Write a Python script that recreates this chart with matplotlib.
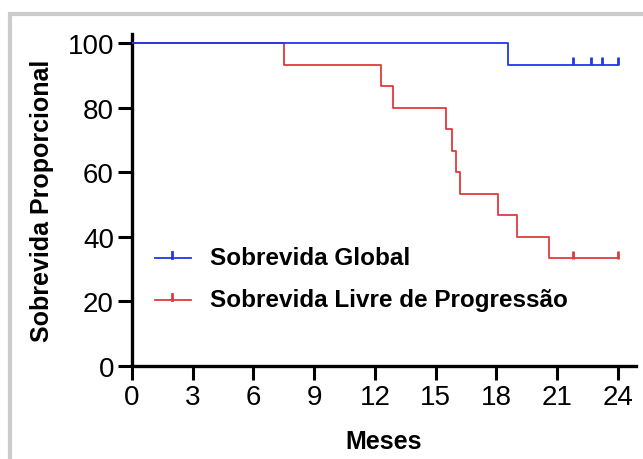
import matplotlib.pyplot as plt
from matplotlib.patches import Rectangle

plt.rcParams['font.family'] = ['Liberation Sans', 'DejaVu Sans']

# Sobrevida Global: event times (months) and survival (%)
os_times = [0, 18.6, 24.0]
os_surv = [100, 93.3, 93.3]
os_censor_t = [21.8, 22.7, 23.2, 24.0]

# Sobrevida Livre de Progressao
pfs_times = [0, 7.5, 12.3, 12.9, 15.5, 15.8, 16.0, 16.2, 18.1, 19.0, 20.6, 24.0]
pfs_surv = [100, 93.3, 86.7, 80.0, 73.3, 66.7, 60.0, 53.3, 46.7, 40.0, 33.3, 33.3]
pfs_censor_t = [21.8, 24.0]

xticks = [0, 3, 6, 9, 12, 15, 18, 21, 24]
yticks = [0, 20, 40, 60, 80, 100]

blue = '#2236e8'
red = '#e03a3e'

fig = plt.figure(figsize=(6.43, 4.6), dpi=100)
ax = fig.add_axes([132/643, 1-367/460, (636-132)/643, (367-35)/460])

ax.step(os_times, os_surv, where='post', color=blue, lw=1.3, zorder=3)
ax.step(pfs_times, pfs_surv, where='post', color=red, lw=1.3, zorder=2)
ax.plot(os_censor_t, [os_surv[-1] + 1.0] * len(os_censor_t), ls='none', marker='|',
        ms=6, mew=2, color=blue)
ax.plot(pfs_censor_t, [pfs_surv[-1] + 1.0] * len(pfs_censor_t), ls='none', marker='|',
        ms=6, mew=2, color=red)

ax.set_xlim(0, 24.9)
ax.set_ylim(0, 102.8)
ax.set_xticks(xticks)
ax.set_yticks(yticks)
for s in ['top', 'right']:
    ax.spines[s].set_visible(False)
ax.spines['left'].set_linewidth(2.4)
ax.spines['bottom'].set_linewidth(2.4)
ax.tick_params(width=2.2, length=10, labelsize=20, pad=3)
for lab in ax.get_xticklabels() + ax.get_yticklabels():
    lab.set_family(['Liberation Sans Narrow', 'Liberation Sans'])
ax.set_xlabel('Meses', fontsize=18, fontweight='bold', labelpad=14)
ax.set_ylabel('Sobrevida Proporcional', fontsize=18, fontweight='bold', labelpad=10)

# legend drawn manually in figure coords
leg = [('Sobrevida Global', blue, 259), ('Sobrevida Livre de Progressão', red, 301)]
for label, c, ypix in leg:
    yf = 1 - ypix / 460
    fig.add_artist(plt.Line2D([155/643, 191/643], [yf, yf], color=c, lw=1.3))
    fig.add_artist(plt.Line2D([172/643, 172/643], [yf, yf + 6/460], color=c, lw=2))
    fig.text(210/643, yf, label, fontsize=17.5, fontweight='bold', va='center')

fig.add_artist(Rectangle((10/643, -0.1), 1.0, 1 - 15/460 + 0.1, transform=fig.transFigure,
                         fill=False, ec='#cccccc', lw=3))

fig.savefig('out.png', dpi=100)
